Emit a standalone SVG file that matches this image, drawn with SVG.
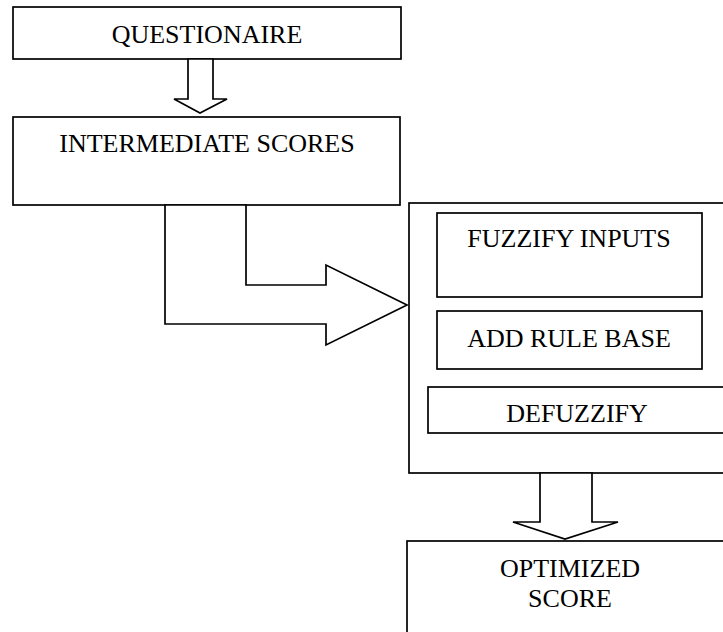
<svg xmlns="http://www.w3.org/2000/svg" width="723" height="632" viewBox="0 0 723 632">
<style>
.box{fill:#fff;stroke:#000;stroke-width:1.7}
.arr{fill:#fff;stroke:#000;stroke-width:1.7;stroke-linejoin:miter}
.t{font-family:'Liberation Serif','Times New Roman',serif;font-size:26px;fill:#000;text-anchor:middle}
</style>
<rect width="723" height="632" fill="#fff"/>
<g id="questionaire">
<rect class="box" x="13" y="7" width="388" height="52"/>
<text class="t" x="207" y="43">QUESTIONAIRE</text>
</g>
<g id="intermediate">
<rect class="box" x="13" y="117" width="387" height="88"/>
<text class="t" x="207" y="152">INTERMEDIATE SCORES</text>
</g>
<g id="fuzzy-system">
<rect class="box" x="409" y="203" width="330" height="270"/>
</g>
<g id="fuzzify">
<rect class="box" x="437" y="213" width="265" height="84"/>
<text class="t" x="569" y="247">FUZZIFY INPUTS</text>
</g>
<g id="rulebase">
<rect class="box" x="437" y="311" width="265" height="58"/>
<text class="t" x="569" y="347">ADD RULE BASE</text>
</g>
<g id="defuzzify">
<rect class="box" x="428" y="387" width="310" height="46"/>
<text class="t" x="577" y="422">DEFUZZIFY</text>
</g>
<g id="optimized">
<rect class="box" x="407" y="541" width="330" height="110"/>
<text class="t" x="570" y="577">OPTIMIZED</text>
<text class="t" x="570" y="607">SCORE</text>
</g>
<g id="connectors">
<polygon class="arr" points="188,59 213,59 213,99 227,99 200,113 174,99 188,99"/>
<polygon class="arr" points="165,205 246,205 246,285 326,285 326,265 407,305 326,345 326,324 165,324"/>
<polygon class="arr" points="540,473 592,473 592,522 618,522 565,539 513,522 540,522"/>
</g>
</svg>
